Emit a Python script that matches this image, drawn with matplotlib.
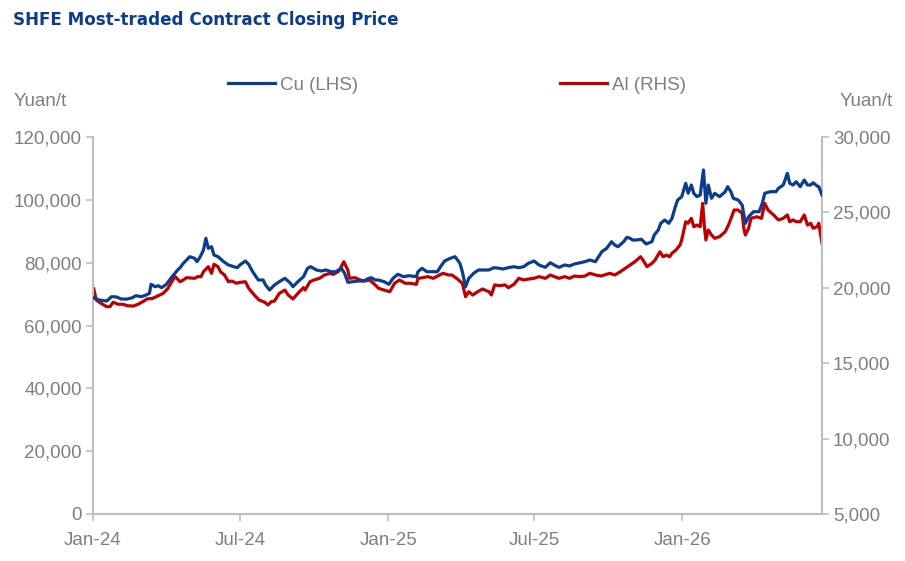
import pandas as pd
import matplotlib
matplotlib.use("Agg")
import matplotlib.pyplot as plt
import matplotlib.dates as mdates
from matplotlib.ticker import FuncFormatter, MultipleLocator
from matplotlib.lines import Line2D

# Cu most-traded contract, yuan/t (left axis)
cu_dates = [
    "2024-01-02", "2024-01-09", "2024-01-18", "2024-01-24", "2024-01-30", "2024-02-05", "2024-02-12",
    "2024-02-19", "2024-02-23", "2024-03-01", "2024-03-07", "2024-03-11", "2024-03-13", "2024-03-18",
    "2024-03-22", "2024-03-26", "2024-04-01", "2024-04-08", "2024-04-15", "2024-04-18", "2024-04-22",
    "2024-04-26", "2024-04-30", "2024-05-06", "2024-05-09", "2024-05-13", "2024-05-17", "2024-05-20",
    "2024-05-23", "2024-05-27", "2024-05-30", "2024-06-04", "2024-06-11", "2024-06-17", "2024-06-24",
    "2024-06-28", "2024-07-01", "2024-07-08", "2024-07-12", "2024-07-17", "2024-07-24", "2024-07-30",
    "2024-08-02", "2024-08-07", "2024-08-13", "2024-08-19", "2024-08-26", "2024-09-02", "2024-09-05",
    "2024-09-11", "2024-09-18", "2024-09-23", "2024-09-27", "2024-10-04", "2024-10-10", "2024-10-16",
    "2024-10-22", "2024-10-28", "2024-11-04", "2024-11-08", "2024-11-12", "2024-11-18", "2024-11-25",
    "2024-12-02", "2024-12-06", "2024-12-11", "2024-12-16", "2024-12-20", "2024-12-27", "2025-01-02",
    "2025-01-07", "2025-01-13", "2025-01-20", "2025-01-27", "2025-02-05", "2025-02-07", "2025-02-12",
    "2025-02-18", "2025-02-24", "2025-03-03", "2025-03-07", "2025-03-12", "2025-03-19", "2025-03-25",
    "2025-03-31", "2025-04-03", "2025-04-07", "2025-04-11", "2025-04-17", "2025-04-23", "2025-04-30",
    "2025-05-06", "2025-05-12", "2025-05-19", "2025-05-23", "2025-05-30", "2025-06-06", "2025-06-12",
    "2025-06-18", "2025-06-24", "2025-07-01", "2025-07-07", "2025-07-15", "2025-07-21", "2025-07-28",
    "2025-08-01", "2025-08-08", "2025-08-14", "2025-08-20", "2025-08-27", "2025-09-02", "2025-09-08",
    "2025-09-15", "2025-09-19", "2025-09-23", "2025-09-29", "2025-10-05", "2025-10-09", "2025-10-13",
    "2025-10-20", "2025-10-24", "2025-10-28", "2025-10-31", "2025-11-05", "2025-11-11", "2025-11-17",
    "2025-11-24", "2025-11-27", "2025-12-02", "2025-12-05", "2025-12-10", "2025-12-15", "2025-12-19",
    "2025-12-23", "2025-12-26", "2025-12-31", "2026-01-05", "2026-01-08", "2026-01-12", "2026-01-15",
    "2026-01-19", "2026-01-23", "2026-01-27", "2026-01-30", "2026-02-02", "2026-02-06", "2026-02-10",
    "2026-02-16", "2026-02-23", "2026-02-26", "2026-03-02", "2026-03-05", "2026-03-11", "2026-03-16",
    "2026-03-20", "2026-03-24", "2026-03-30", "2026-04-06", "2026-04-10", "2026-04-13", "2026-04-20",
    "2026-04-27", "2026-04-30", "2026-05-06", "2026-05-11", "2026-05-14", "2026-05-18", "2026-05-22",
    "2026-05-27", "2026-06-01", "2026-06-05", "2026-06-09", "2026-06-12", "2026-06-17", "2026-06-19",
    "2026-06-23",
]
cu_price = [
    68750, 68100, 67800, 69170, 69100, 68430, 68400,
    68850, 69490, 69170, 69710, 70250, 73110, 72350,
    72670, 72030, 73110, 75530, 77670, 78400, 79800,
    80850, 81900, 81390, 80310, 81900, 84030, 87760,
    84570, 85080, 82440, 81900, 80310, 79260, 78720,
    78400, 79260, 80530, 79480, 77120, 74480, 74480,
    72890, 71300, 72890, 73940, 75020, 73430, 72350,
    73940, 75530, 78210, 78720, 77670, 77350, 77670,
    77120, 77120, 78210, 76610, 73750, 73940, 74160,
    74160, 74800, 75210, 74480, 74480, 73940, 73110,
    75020, 76300, 75530, 75850, 75530, 77120, 78210,
    77120, 77120, 77120, 78720, 80530, 81390, 81900,
    79800, 77120, 72350, 75020, 76610, 77670, 77670,
    77670, 78400, 78210, 77980, 78400, 78720, 78400,
    78720, 79800, 80530, 79260, 78520, 79990, 78940,
    78520, 79260, 78940, 79580, 79990, 80310, 80850,
    80310, 81900, 83490, 84570, 86670, 85620, 85080,
    86670, 88070, 87760, 87210, 87210, 87440, 85940,
    86670, 88810, 90400, 92530, 93580, 92530, 94120,
    97710, 99950, 101000, 105260, 102080, 104720, 102080,
    101000, 101540, 109500, 98900, 104720, 100490, 102080,
    101000, 102590, 104180, 102590, 100490, 99950, 98350,
    92530, 94630, 96220, 96220, 98900, 102080, 102590,
    102590, 103670, 104720, 108440, 105260, 104720, 105770,
    104180, 106310, 104720, 104720, 105450, 104400, 104180,
    101540,
]

# Al most-traded contract, yuan/t (right axis)
al_dates = [
    "2024-01-02", "2024-01-05", "2024-01-11", "2024-01-18", "2024-01-22", "2024-01-26", "2024-02-01",
    "2024-02-07", "2024-02-13", "2024-02-20", "2024-02-26", "2024-03-04", "2024-03-08", "2024-03-15",
    "2024-03-22", "2024-03-28", "2024-04-03", "2024-04-09", "2024-04-12", "2024-04-18", "2024-04-22",
    "2024-04-26", "2024-05-06", "2024-05-10", "2024-05-14", "2024-05-17", "2024-05-23", "2024-05-27",
    "2024-05-30", "2024-06-04", "2024-06-07", "2024-06-12", "2024-06-17", "2024-06-21", "2024-06-27",
    "2024-07-01", "2024-07-08", "2024-07-12", "2024-07-19", "2024-07-25", "2024-08-01", "2024-08-05",
    "2024-08-09", "2024-08-13", "2024-08-19", "2024-08-26", "2024-08-30", "2024-09-05", "2024-09-11",
    "2024-09-18", "2024-09-20", "2024-09-26", "2024-10-01", "2024-10-08", "2024-10-14", "2024-10-21",
    "2024-10-25", "2024-11-01", "2024-11-07", "2024-11-12", "2024-11-14", "2024-11-21", "2024-11-27",
    "2024-12-03", "2024-12-09", "2024-12-16", "2024-12-20", "2024-12-27", "2025-01-03", "2025-01-09",
    "2025-01-15", "2025-01-22", "2025-01-28", "2025-02-05", "2025-02-07", "2025-02-13", "2025-02-19",
    "2025-02-26", "2025-03-04", "2025-03-10", "2025-03-17", "2025-03-21", "2025-03-28", "2025-04-03",
    "2025-04-07", "2025-04-11", "2025-04-16", "2025-04-22", "2025-04-28", "2025-05-06", "2025-05-09",
    "2025-05-13", "2025-05-19", "2025-05-26", "2025-05-30", "2025-06-06", "2025-06-12", "2025-06-18",
    "2025-06-24", "2025-07-01", "2025-07-07", "2025-07-15", "2025-07-21", "2025-07-28", "2025-08-01",
    "2025-08-08", "2025-08-14", "2025-08-20", "2025-08-27", "2025-09-02", "2025-09-08", "2025-09-15",
    "2025-09-22", "2025-09-26", "2025-10-03", "2025-10-09", "2025-10-16", "2025-10-22", "2025-10-28",
    "2025-11-03", "2025-11-10", "2025-11-13", "2025-11-18", "2025-11-24", "2025-11-28", "2025-12-04",
    "2025-12-08", "2025-12-12", "2025-12-16", "2025-12-19", "2025-12-24", "2025-12-29", "2025-12-31",
    "2026-01-05", "2026-01-08", "2026-01-12", "2026-01-15", "2026-01-19", "2026-01-23", "2026-01-26",
    "2026-01-28", "2026-01-30", "2026-02-02", "2026-02-06", "2026-02-10", "2026-02-16", "2026-02-23",
    "2026-02-27", "2026-03-03", "2026-03-06", "2026-03-11", "2026-03-16", "2026-03-18", "2026-03-20",
    "2026-03-24", "2026-03-27", "2026-04-03", "2026-04-09", "2026-04-13", "2026-04-17", "2026-04-24",
    "2026-04-30", "2026-05-06", "2026-05-11", "2026-05-14", "2026-05-18", "2026-05-22", "2026-05-27",
    "2026-06-01", "2026-06-05", "2026-06-09", "2026-06-12", "2026-06-17", "2026-06-19", "2026-06-23",
]
al_price = [
    19920, 19190, 18970, 18750, 18750, 19040, 18910,
    18910, 18810, 18790, 18910, 19120, 19260, 19300,
    19480, 19630, 19970, 20520, 20740, 20400, 20520,
    20670, 20630, 20740, 20740, 21070, 21400, 20960,
    21560, 21400, 21070, 20850, 20400, 20450, 20300,
    20360, 20400, 19970, 19520, 19190, 19040, 18860,
    19080, 19120, 19630, 19850, 19520, 19260, 19630,
    20010, 19850, 20400, 20520, 20630, 20850, 20960,
    20890, 21110, 21730, 21180, 20630, 20670, 20520,
    20450, 20520, 20190, 19970, 19850, 19740, 20300,
    20520, 20300, 20300, 20230, 20630, 20670, 20740,
    20630, 20800, 20960, 20850, 20850, 20580, 20300,
    19410, 19740, 19520, 19740, 19920, 19740, 19520,
    20190, 20140, 20190, 20010, 20230, 20630, 20520,
    20580, 20630, 20740, 20630, 20850, 20700, 20630,
    20740, 20630, 20780, 20740, 20780, 20960, 20850,
    20780, 20850, 20960, 20850, 21070, 21290, 21510,
    21730, 22060, 21840, 21400, 21620, 21840, 22390,
    22060, 22170, 22060, 22290, 22510, 22840, 23170,
    24380, 24280, 24610, 24050, 24160, 24050, 25600,
    24160, 23170, 23830, 23500, 23280, 23390, 23720,
    24160, 24710, 25160, 25160, 24940, 23950, 23500,
    23950, 24610, 24710, 24610, 25600, 25160, 24830,
    24500, 24610, 24830, 24380, 24500, 24380, 24380,
    24830, 24160, 24280, 23950, 24050, 24280, 22950,
]

x_ticks = ["2024-01-01", "2024-07-01", "2025-01-01", "2025-07-01", "2026-01-01"]

CU_COL = "#0B3D8E"
AL_COL = "#C00000"
GRID_COL = "#BFBFBF"
TXT_COL = "#7F7F7F"

plt.rcParams["font.family"] = ["Liberation Sans", "DejaVu Sans"]

cu = pd.Series(cu_price, index=pd.to_datetime(cu_dates))
al = pd.Series(al_price, index=pd.to_datetime(al_dates))

fig = plt.figure(figsize=(9.05, 5.61), dpi=100)
ax = fig.add_axes([93 / 905, 1 - 514 / 561, (822 - 93) / 905, (514 - 137) / 561])
ax2 = ax.twinx()

ax.plot(cu.index, cu.values, color=CU_COL, lw=2.3, solid_joinstyle="round", zorder=3)
ax2.plot(al.index, al.values, color=AL_COL, lw=2.3, solid_joinstyle="round", zorder=2)
ax.set_zorder(ax2.get_zorder() + 1)
ax.patch.set_visible(False)

ax.set_xlim(pd.Timestamp("2024-01-01"), al.index[-1])
ax.set_ylim(0, 120000)
ax2.set_ylim(5000, 30000)
ax.yaxis.set_major_locator(MultipleLocator(20000))
ax2.yaxis.set_major_locator(MultipleLocator(5000))
fmt = FuncFormatter(lambda v, p: f"{v:,.0f}")
ax.yaxis.set_major_formatter(fmt)
ax2.yaxis.set_major_formatter(fmt)
ax.set_xticks(pd.to_datetime(x_ticks))
ax.xaxis.set_major_formatter(mdates.DateFormatter("%b-%y"))

for a in (ax, ax2):
    for s in a.spines.values():
        s.set_color(GRID_COL)
        s.set_linewidth(1.5)
    a.spines["top"].set_visible(False)
    a.tick_params(colors=GRID_COL, labelcolor=TXT_COL, labelsize=13.5, length=5, width=1.2, direction="out")
ax.spines["right"].set_visible(False)
ax2.spines["left"].set_visible(False)
ax.tick_params(axis="x", pad=8)
ax.tick_params(axis="y", pad=3)
ax2.tick_params(axis="y", pad=3)

fig.text(13 / 905, 1 - 20 / 561, "SHFE Most-traded Contract Closing Price", color="#0B3D8E",
         fontsize=12.1, fontweight="bold", family=["DejaVu Sans"], va="center", ha="left")
fig.text(14 / 905, 1 - 101 / 561, "Yuan/t", color=TXT_COL, fontsize=13.5, va="center", ha="left")
fig.text(893 / 905, 1 - 101 / 561, "Yuan/t", color=TXT_COL, fontsize=13.5, va="center", ha="right")

handles = [Line2D([], [], color=CU_COL, lw=2.3), Line2D([], [], color=AL_COL, lw=2.3)]
fig.legend(handles, ["Cu (LHS)", "Al (RHS)"], ncol=2, frameon=False, loc="center left",
           bbox_to_anchor=(228 / 905, 1 - 85 / 561), borderpad=0, borderaxespad=0,
           handlelength=2.5, handletextpad=0.25, columnspacing=10.8,
           prop={"size": 13.5}, labelcolor=TXT_COL)

fig.savefig("out.png", dpi=100)
